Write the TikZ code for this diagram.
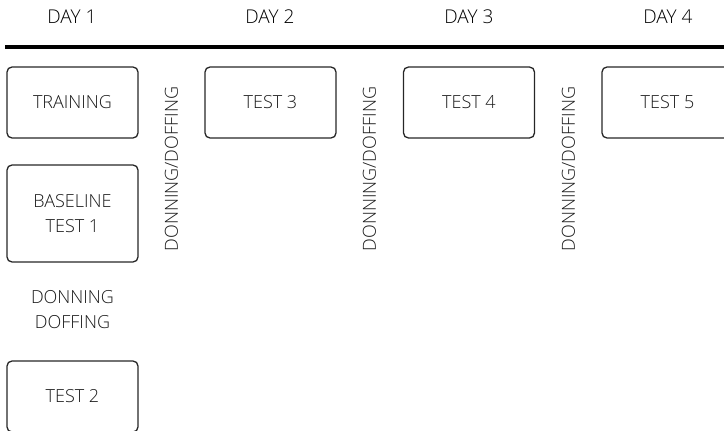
\documentclass[tikz,border=0pt]{standalone}
\usepackage{fontspec}
\setmainfont{Open Sans}[UprightFont=* Light]
\begin{document}
\begin{tikzpicture}[x=1pt,y=-1pt,
  stepbox/.style={draw=black!85, line width=1.3pt, rounded corners=5pt, minimum width=131pt, minimum height=71pt, align=center, font=\fontsize{18}{25}\selectfont, text=black!90, inner sep=0pt},
  daylbl/.style={font=\fontsize{19}{22}\selectfont, text=black},
  vlbl/.style={rotate=90, font=\fontsize{18}{22}\selectfont, text=black!90},
  plain/.style={align=center, font=\fontsize{18}{25}\selectfont, text=black!90}]
\useasboundingbox (0,0) rectangle (724,431);
\node[daylbl] (d1) at (72,17) {DAY 1};
\node[daylbl] (d2) at (270,17) {DAY 2};
\node[daylbl] (d3) at (469,17) {DAY 3};
\node[daylbl] (d4) at (668,17) {DAY 4};
\coordinate (ls) at (5,47);
\coordinate (le) at (724,47);
\draw[line width=4pt] (ls) -- (le);
\node[stepbox] (training) at (72.5,102.5) {TRAINING};
\node[stepbox, minimum height=97pt] (base) at (72.5,213.5) {BASELINE\\TEST 1};
\node[plain] (dd) at (72.5,310) {DONNING\\DOFFING};
\node[stepbox] (t2) at (72.5,396.5) {TEST 2};
\node[stepbox] (t3) at (270.5,102.5) {TEST 3};
\node[stepbox] (t4) at (469,102.5) {TEST 4};
\node[stepbox] (t5) at (667.5,102.5) {TEST 5};
\node[vlbl] (v1) at (171.5,169) {DONNING/DOFFING};
\node[vlbl] (v2) at (369.5,169) {DONNING/DOFFING};
\node[vlbl] (v3) at (568.5,169) {DONNING/DOFFING};
\end{tikzpicture}
\end{document}
